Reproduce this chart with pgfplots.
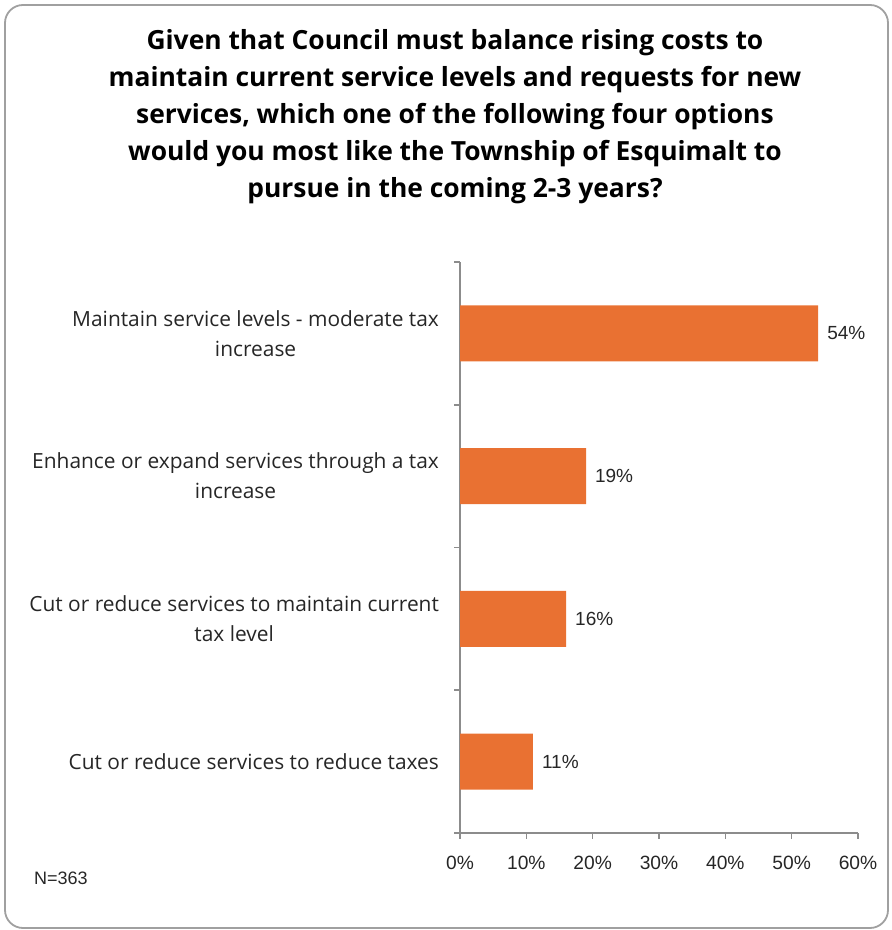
\documentclass[border=0pt]{standalone}
\usepackage{fontspec}
\setmainfont{Open Sans}
\newfontfamily\arialf{Liberation Sans}
\usepackage{pgfplots}
\pgfplotsset{compat=1.18}
\definecolor{barorange}{HTML}{E97132}
\definecolor{axgrey}{HTML}{8C8C8C}
\definecolor{framegrey}{HTML}{A0A0A0}
\begin{document}
\begin{tikzpicture}
\path (0,0) rectangle (445.5pt,465pt);
\draw[framegrey, line width=0.9pt, rounded corners=9pt] (2.5pt,1pt) rectangle (444pt,462.5pt);
\node[align=center, font=\bfseries\fontsize{13.2}{18.5}\selectfont] at (227.5pt,406.5pt)
{Given that Council must balance rising costs to\\
maintain current service levels and requests for new\\
services, which one of the following four options\\
would you most like the Township of Esquimalt to\\
pursue in the coming 2-3 years?};
\node[anchor=west, font=\arialf\fontsize{9}{10}\selectfont, text=black!85] at (13.5pt,26pt) {N=363};
\begin{axis}[
  at={(230pt,48.5pt)}, anchor=south west, scale only axis,
  width=199pt, height=285.5pt,
  xmin=0, xmax=60, ymin=-0.5, ymax=3.5,
  enlargelimits=false, clip=false,
  xbar, bar width=28pt,
  axis x line*=bottom, axis y line*=left,
  axis line style={axgrey, line width=0.8pt},
  tick style={axgrey, line width=0.8pt},
  tick align=outside, major tick length=3pt,
  xtick={0,10,20,30,40,50,60},
  xticklabel={\pgfmathprintnumber{\tick}\%},
  /pgf/number format/assume math mode=true,
  xticklabel style={font=\arialf\fontsize{9.6}{10}\selectfont, text=black!85, yshift=-5pt},
  ytick={-0.5,0.5,1.5,2.5,3.5}, yticklabels={},
  extra y ticks={0,1,2,3},
  extra y tick labels={{Cut or reduce services to reduce taxes},{Cut or reduce services to maintain current\\tax level},{Enhance or expand services through a tax\\increase},{Maintain service levels - moderate tax\\increase}},
  extra y tick style={major tick length=0pt, yticklabel style={align=center, font=\fontsize{10.45}{15}\selectfont, text=black!85, xshift=-7pt}},
  nodes near coords={\pgfmathprintnumber{\pgfplotspointmeta}\%},
  nodes near coords style={anchor=west, font=\arialf\fontsize{9.5}{10}\selectfont, text=black!85, xshift=1pt},
]
\addplot[fill=barorange, draw=none] coordinates {(11,0) (16,1) (19,2) (54,3)};
\end{axis}
\end{tikzpicture}
\end{document}
